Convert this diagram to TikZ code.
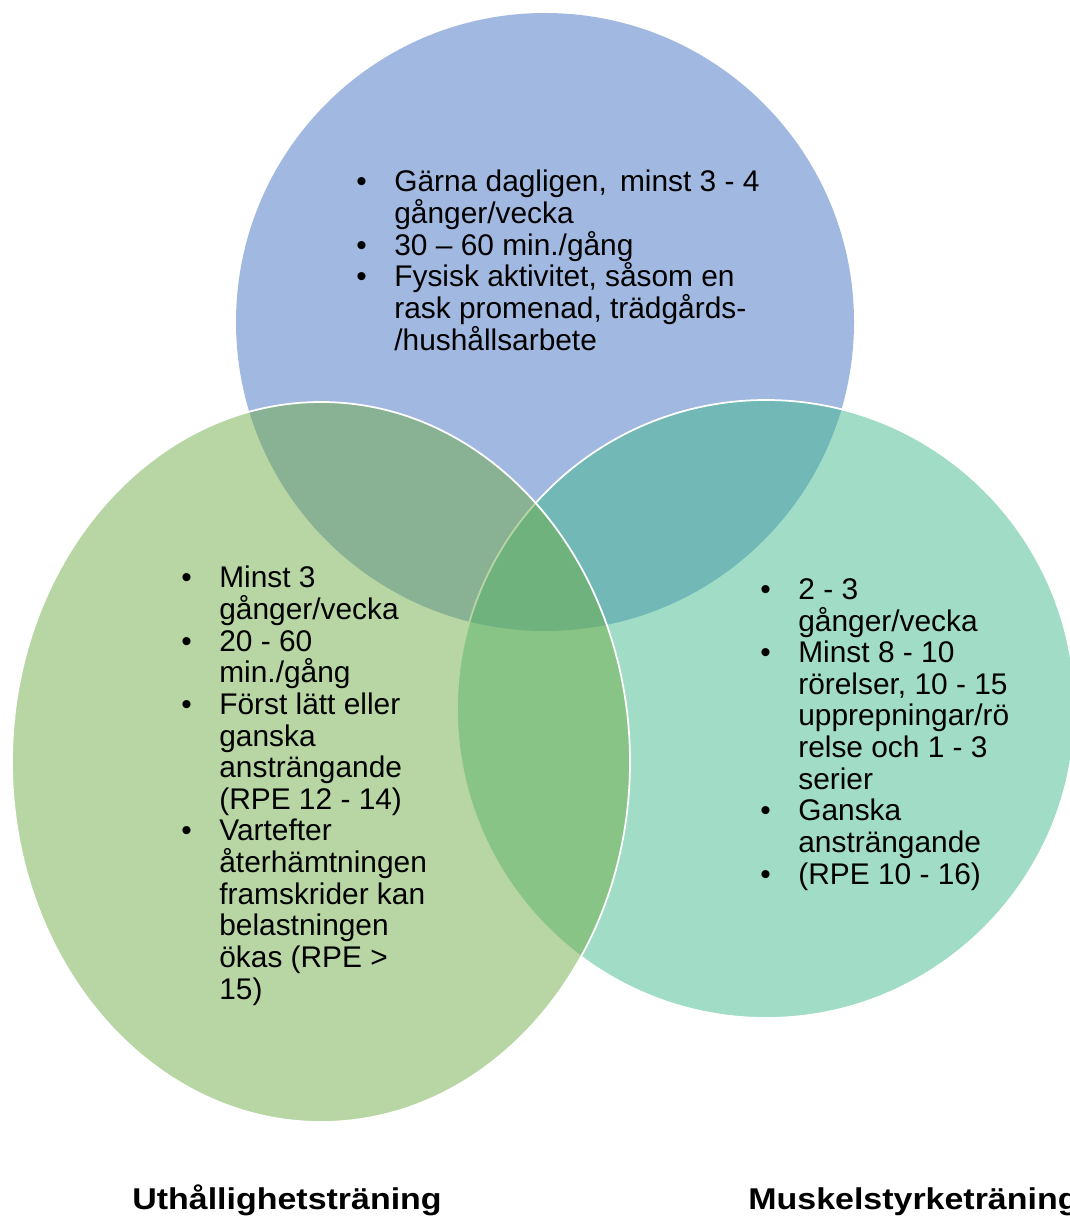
\documentclass[tikz,border=0pt]{standalone}
\usepackage{fontspec}
\usepackage{graphicx}
\setmainfont{Liberation Sans}
\definecolor{ringblue}{HTML}{4472C4}
\definecolor{ringteal}{HTML}{41B98D}
\definecolor{ringgreen}{HTML}{70AD47}
\newcommand{\bul}{\llap{\textbullet\hspace{15.7pt}}}
\begin{document}
\begin{tikzpicture}[x=0.02cm,y=-0.02cm,
	every node/.style={inner sep=0pt},
	listtext/.style={anchor=base west,align=left,font=\fontsize{17}{18}\selectfont},
	ringlabel/.style={font=\bfseries\fontsize{17.1}{20}\selectfont}]
	\useasboundingbox (0,0) rectangle (1069,1216);
	% the three rings
	\fill[ringblue,fill opacity=0.5] (545,322) circle[radius=309];
	\filldraw[fill=ringteal,fill opacity=0.5,draw=white,line width=1pt] (766,709) circle[radius=309];
	\filldraw[fill=ringgreen,fill opacity=0.5,draw=white,line width=1pt] (321,762) ellipse[x radius=309,y radius=360];
	% texts (anchored at the baseline of their last line)
	\node[listtext] (daily) at (394,350) {\bul Gärna dagligen,\hspace{2.8pt} minst 3 - 4\\
		gånger/vecka\\
		\bul 30 – 60 min./gång\\
		\bul Fysisk aktivitet, såsom en\\
		rask promenad, trädgårds-\\
		/hushållsarbete};
	\node[listtext] (endur) at (219,999) {\bul Minst 3\\
		gånger/vecka\\
		\bul 20 - 60\\
		min./gång\\
		\bul Först lätt eller\\
		ganska\\
		ansträngande\\
		(RPE 12 - 14)\\
		\bul Vartefter\\
		återhämtningen\\
		framskrider kan\\
		belastningen\\
		ökas (RPE >\\
		15)};
	\node[listtext] (muscle) at (798,884) {\bul 2 - 3\\
		gånger/vecka\\
		\bul Minst 8 - 10\\
		rörelser, 10 - 15\\
		upprepningar/rö\\
		relse och 1 - 3\\
		serier\\
		\bul Ganska\\
		ansträngande\\
		\bul (RPE 10 - 16)};
	\node[ringlabel,anchor=base] (endurlabel) at (287,1209) {\scalebox{1.13}[1]{Uthållighetsträning}};
	\node[ringlabel,anchor=base west] (musclelabel) at (748,1209) {\scalebox{1.13}[1]{Muskelstyrketräning}};
\end{tikzpicture}
\end{document}
